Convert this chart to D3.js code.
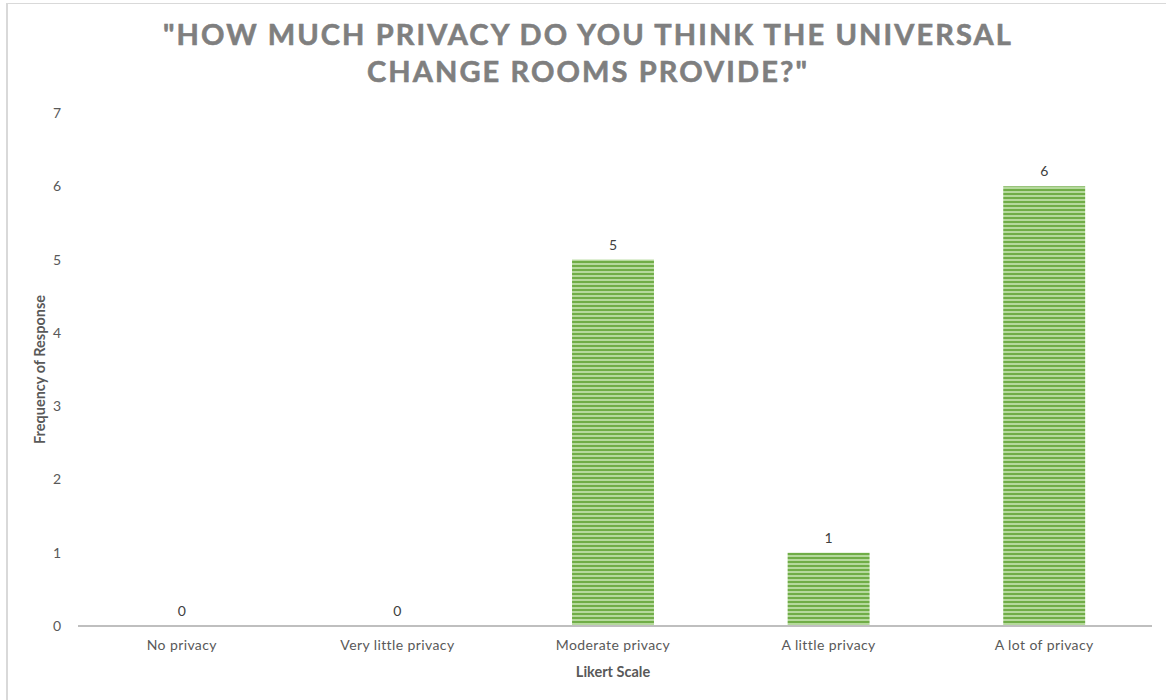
<!DOCTYPE html>
<html>
<head>
<meta charset="utf-8">
<script src="https://cdn.jsdelivr.net/npm/d3@7"></script>
<style>
  body { margin: 0; background: #fff; }
  #chart svg { display: block; }
  .axis text { font-family: Lato, "Open Sans", sans-serif; font-size: 14px; fill: #595959; }
</style>
</head>
<body>
<div id="chart"></div>
<script>
// chart data
var categories = ["No privacy", "Very little privacy", "Moderate privacy", "A little privacy", "A lot of privacy"];
var counts = [0, 0, 5, 1, 6];
var yTicks = [0, 1, 2, 3, 4, 5, 6, 7];
var titleLines = ["\"HOW MUCH PRIVACY DO YOU THINK THE UNIVERSAL", "CHANGE ROOMS PROVIDE?\""];

var width = 1166, height = 700;
var margin = {top: 113, right: 14, bottom: 74, left: 74};

var svg = d3.select("#chart").append("svg")
    .attr("width", width)
    .attr("height", height);

// striped fill like the original
var defs = svg.append("defs");
var pat = defs.append("pattern")
    .attr("id", "stripes")
    .attr("patternUnits", "userSpaceOnUse")
    .attr("width", 8)
    .attr("height", 4);
pat.append("rect").attr("width", 8).attr("height", 4).attr("fill", "#b5d99c");
pat.append("rect").attr("width", 8).attr("height", 2).attr("fill", "#70ad47");

// chart border (left + top visible)
svg.append("line").attr("x1", 7).attr("x2", 7).attr("y1", 3).attr("y2", height)
    .style("stroke", "#d9d9d9").style("stroke-width", 2);
svg.append("line").attr("x1", 7).attr("x2", width).attr("y1", 3.5).attr("y2", 3.5)
    .style("stroke", "#d9d9d9").style("stroke-width", 1);

// title
svg.append("g").selectAll("text")
    .data(titleLines)
    .enter().append("text")
    .attr("x", 588)
    .attr("y", function(d, i) { return 45 + i * 37; })
    .attr("text-anchor", "middle")
    .style("font-family", "Lato, 'Open Sans', sans-serif")
    .style("font-weight", "bold")
    .style("font-size", "29px")
    .style("letter-spacing", "2.1px")
    .style("stroke", "#7f7f7f")
    .style("stroke-width", 0.6)
    .style("fill", "#7f7f7f")
    .text(function(d) { return d; });

var plotW = width - margin.left - margin.right;
var plotH = height - margin.top - margin.bottom;

var g = svg.append("g").attr("transform", "translate(" + margin.left + "," + margin.top + ")");

var x = d3.scaleBand().domain(categories).range([0, plotW]).paddingInner(0.62).paddingOuter(0.31);
var y = d3.scaleLinear().domain([0, 7]).range([plotH, 0]);

// y axis (labels only)
var yAxis = d3.axisLeft(y).tickValues(yTicks).tickFormat(d3.format("d")).tickSize(0).tickPadding(13);
var yg = g.append("g").attr("class", "axis").call(yAxis);
yg.select(".domain").remove();

// bars
g.selectAll(".bar")
    .data(counts)
    .enter().append("rect")
    .attr("class", "bar")
    .attr("x", function(d, i) { return x(categories[i]); })
    .attr("width", x.bandwidth())
    .attr("y", function(d) { return y(d); })
    .attr("height", function(d) { return plotH - y(d); })
    .style("fill", "url(#stripes)");

// value labels
g.selectAll(".val")
    .data(counts)
    .enter().append("text")
    .attr("class", "val")
    .attr("x", function(d, i) { return x(categories[i]) + x.bandwidth() / 2; })
    .attr("y", function(d) { return y(d) - 10; })
    .attr("text-anchor", "middle")
    .style("font-family", "Lato, 'Open Sans', sans-serif")
    .style("font-size", "14px")
    .style("fill", "#404040")
    .text(function(d) { return d; });

// x axis
var xAxis = d3.axisBottom(x).tickSize(0).tickPadding(14);
var xg = g.append("g").attr("class", "axis")
    .attr("transform", "translate(0," + plotH + ")")
    .call(xAxis);
xg.select(".domain").style("stroke", "#bfbfbf").style("stroke-width", 2)
    .attr("d", "M4,0H" + plotW);
xg.selectAll("text").style("letter-spacing", "0.4px");

// axis titles
svg.append("text")
    .attr("x", margin.left + x("Moderate privacy") + x.bandwidth() / 2)
    .attr("y", 677)
    .attr("text-anchor", "middle")
    .style("font-family", "Lato, 'Open Sans', sans-serif")
    .style("font-weight", "bold")
    .style("font-size", "14.5px")
    .style("fill", "#595959")
    .text("Likert Scale");

svg.append("text")
    .attr("transform", "translate(45," + (margin.top + plotH / 2) + ") rotate(-90)")
    .attr("text-anchor", "middle")
    .style("font-family", "Lato, 'Open Sans', sans-serif")
    .style("font-weight", "bold")
    .style("font-size", "14.5px")
    .style("fill", "#595959")
    .text("Frequency of Response");
</script>
</body>
</html>
